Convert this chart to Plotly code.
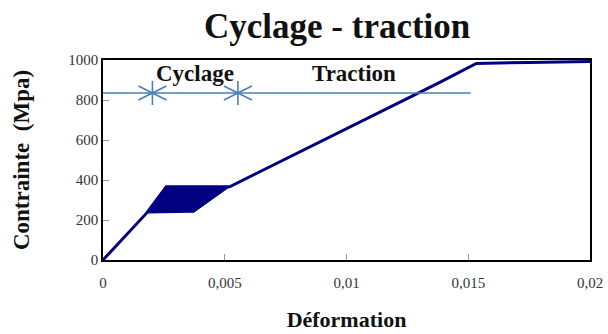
import plotly.graph_objects as go

# Stress-strain curve of the cyclic + tensile test (strain, MPa)
strain = [0, 0.00178, 0.0026, 0.0052, 0.01383, 0.01513, 0.01533, 0.0175, 0.02]
stress = [0, 233, 366, 366, 888, 967, 983, 988, 992]

# Envelope of the cycling loops
loop_strain = [0.00178, 0.0026, 0.0052, 0.0037]
loop_stress = [233, 366, 366, 236]

# Phase markers: cycling starts / traction starts / traction ends
phase_bounds = [0.00203, 0.00554, 0.0151]
phase_level = 835
phase_names = ["Cyclage", "Traction"]

x_ticks = [0, 0.005, 0.01, 0.015, 0.02]
x_tick_text = ["0", "0,005", "0,01", "0,015", "0,02"]
y_ticks = [0, 200, 400, 600, 800, 1000]

NAVY = "#000080"
BLUE = "#4a7ebb"
SERIF = "Liberation Serif"

fig = go.Figure()

fig.add_trace(go.Scatter(
    x=loop_strain, y=loop_stress, fill="toself", fillcolor=NAVY,
    mode="lines", line=dict(color=NAVY, width=1), hoverinfo="skip",
))
fig.add_trace(go.Scatter(
    x=strain, y=stress, mode="lines",
    line=dict(color=NAVY, width=3),
))
fig.add_trace(go.Scatter(
    x=[0, phase_bounds[-1]], y=[phase_level, phase_level], mode="lines",
    line=dict(color=BLUE, width=1.5),
))

# ">|<" separators on the phase line
for xb in phase_bounds[:2]:
    fig.add_shape(
        type="path", xref="x", yref="y",
        xsizemode="pixel", ysizemode="pixel",
        xanchor=xb, yanchor=phase_level,
        path="M-14,-7 L14,7 M-14,7 L14,-7 M0,-12 L0,12",
        line=dict(color=BLUE, width=1.6),
    )

for i, name in enumerate(phase_names):
    fig.add_annotation(
        x=(phase_bounds[i] + phase_bounds[i + 1]) / 2, y=935,
        text=f"<b>{name}</b>", showarrow=False,
        font=dict(family=SERIF, size=23, color="#111"),
    )

fig.add_annotation(
    xref="paper", yref="paper", x=0.48, y=1,
    yshift=55, text="<b>Cyclage - traction</b>", showarrow=False,
    font=dict(family=SERIF, size=35, color="#111"),
)

axis_common = dict(
    showgrid=False, zeroline=False, showline=True, linecolor="black",
    linewidth=1.5, mirror=True, ticks="inside", ticklen=6,
    tickcolor="#999", tickwidth=1, automargin=False,
    tickfont=dict(family=SERIF, size=15, color="#333"),
)

fig.update_layout(
    width=608, height=334,
    margin=dict(l=103, r=18, t=60, b=74),
    plot_bgcolor="white", paper_bgcolor="white",
    showlegend=False,
    xaxis=dict(
        range=[0, 0.02], tickvals=x_ticks, ticktext=x_tick_text,
        ticklabelstandoff=8,
        title=dict(text="<b>Déformation</b>", standoff=22,
                   font=dict(family=SERIF, size=22, color="#111")),
        **axis_common,
    ),
    yaxis=dict(
        range=[0, 1000], tickvals=y_ticks,
        title=dict(text="<b>Contrainte  (Mpa)</b>", standoff=32,
                   font=dict(family=SERIF, size=23, color="#111")),
        **axis_common,
    ),
)

fig.write_html("out.html")
